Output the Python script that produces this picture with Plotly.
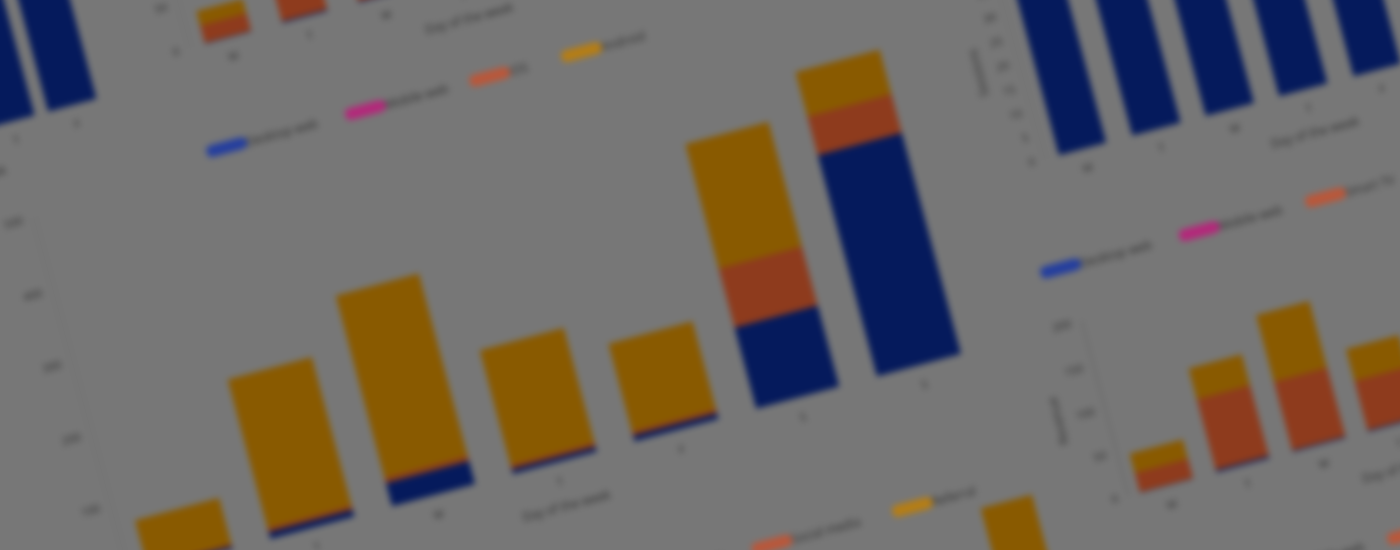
import plotly.graph_objects as go

# ---------------- data ----------------
DAYS = ["M", "T", "W", "T", "F", "S", "S"]

TOP_SERIES = ["Desktop web", "Mobile web", "iOS", "Android"]
RIGHT_SERIES = ["Desktop web", "Mobile web", "Smart TV", "Console"]
MAIN_SERIES = ["Organic search", "Paid search", "Social media", "Referral"]
X_TITLE = "Day of the week"

# centre (main) chart, stacked blue / pink / red / amber
main_blue = [5, 10, 33, 8, 9, 113, 309]
main_pink = [0, 0, 0, 0, 0, 0, 0]
main_red = [3, 5, 7, 5, 5, 83, 53]
main_amber = [64, 208, 254, 159, 122, 173, 62]

# top-left partial chart (blue)
p1_blue = [80, 86, 90, 94, 88]

# top chart (red / amber)
p2_blue = [1, 2, 2, 1, 2, 2, 1]
p2_red = [20, 78, 62, 40, 55, 70, 35]
p2_amber = [16, 44, 38, 30, 42, 50, 28]

# top-right chart (blue)
p4_blue = [37, 35, 34, 36, 33, 31, 34]

# right chart (red / amber)
p5_blue = [1, 3, 2, 2, 2, 3, 2]
p5_red = [22, 80, 78, 56, 64, 48, 70]
p5_amber = [22, 36, 76, 36, 42, 30, 45]

# bottom chart (red / amber)
p6_red = [20, 25, 15, 30, 22, 28, 30]
p6_amber = [30, 35, 25, 40, 33, 40, 70]

# ---------------- style ----------------
BG = "#777777"
BAR = {"blue": "#051a5c", "pink": "#8a1f55", "red": "#8e3b1d", "amber": "#895a00"}
PILL = ["#243e9e", "#b3287a", "#b9573a", "#b57d14"]
TICK_C = "#2c2c2c"
TEXT_C = "#2e2e2e"

# unrotated canvas geometry (pixels)
U0, V0, W, H = -250, -350, 1800, 1350


def xd(u):
    return (u - U0) / W


def yd(v):
    return 1 - (v - V0) / H


panels = [
    dict(n=1, u=(-250, 69), v=(-230, 120), ymax=100, dtick=20, bw=0.78,
         series=[("blue", p1_blue)], ytitle=None),
    dict(n=2, u=(167, 727), v=(-85, 95), ymax=200, dtick=50, bw=0.6,
         series=[("blue", p2_blue), ("red", p2_red), ("amber", p2_amber)], ytitle=None),
    dict(n=3, u=(-30, 859), v=(218, 588), ymax=500, dtick=100, bw=0.69,
         series=[("blue", main_blue), ("pink", main_pink), ("red", main_red), ("amber", main_amber)],
         ytitle=None),
    dict(n=4, u=(973, 1512), v=(222, 422), ymax=40, dtick=5, bw=0.65,
         series=[("blue", p4_blue)], ytitle="Sessions"),
    dict(n=5, u=(966, 1522), v=(587, 767), ymax=200, dtick=50, bw=0.7,
         series=[("blue", p5_blue), ("red", p5_red), ("amber", p5_amber)], ytitle="Revenue"),
    dict(n=6, u=(308, 886), v=(741, 941), ymax=100, dtick=20, bw=0.65,
         series=[("red", p6_red), ("amber", p6_amber)], ytitle=None),
]

fig = go.Figure()
layout = {}

for p in panels:
    n = p["n"]
    ncat = len(p["series"][0][1])
    xs = list(range(ncat))
    xa = "x" if n == 1 else f"x{n}"
    ya = "y" if n == 1 else f"y{n}"
    for key, vals in p["series"]:
        fig.add_trace(go.Bar(
            x=xs, y=vals, width=p["bw"], marker=dict(color=BAR[key], line=dict(width=0)),
            xaxis=xa, yaxis=ya, showlegend=False, hoverinfo="skip"))
    xkey = "xaxis" if n == 1 else f"xaxis{n}"
    ykey = "yaxis" if n == 1 else f"yaxis{n}"
    layout[xkey] = dict(
        domain=[max(0, xd(p["u"][0])), min(1, xd(p["u"][1]))], anchor=ya,
        range=[-0.5, ncat - 0.5], tickvals=xs, ticktext=DAYS[:ncat],
        showgrid=False, zeroline=False, showline=False, ticks="",
        tickfont=dict(size=11, color=TICK_C), ticklabelstandoff=11,
        title=dict(text=X_TITLE, font=dict(size=12, color=TEXT_C), standoff=14))
    layout[ykey] = dict(
        domain=[max(0, yd(p["v"][1])), min(1, yd(p["v"][0]))], anchor=xa,
        range=[0, p["ymax"]], dtick=p["dtick"], showgrid=False, zeroline=False,
        showline=True, linecolor="#6a6a6a", linewidth=1, ticks="",
        tickfont=dict(size=11, color=TICK_C), ticklabelstandoff=8,
        title=dict(text=p["ytitle"] or "", font=dict(size=12, color=TEXT_C), standoff=10))

# legends: one legend box per entry so each pill sits where the reference has it
TOP_OFFSETS = [0, 145, 275, 371]
RIGHT_OFFSETS = [0, 145, 277, 410]
MAIN_OFFSETS = [0, 140, 275, 422]
legend_specs = [
    (2, TOP_SERIES, TOP_OFFSETS, 176, 200),
    (4, RIGHT_SERIES, RIGHT_OFFSETS, 958, 531),
    (3, MAIN_SERIES, MAIN_OFFSETS, 329, 722),
    (5, RIGHT_SERIES, RIGHT_OFFSETS, 950, 876),
]
lg = 0
for pn, labels, offs, u0, v in legend_specs:
    xa = "x" if pn == 1 else f"x{pn}"
    ya = "y" if pn == 1 else f"y{pn}"
    for lab, col, off in zip(labels, PILL, offs):
        lg += 1
        lname = "legend" if lg == 1 else f"legend{lg}"
        fig.add_trace(go.Scatter(
            x=[None], y=[None], mode="lines", name=lab,
            line=dict(color=col, width=10), legend=lname,
            xaxis=xa, yaxis=ya, showlegend=True, hoverinfo="skip"))
        layout[lname] = dict(
            orientation="h", x=xd(u0 + off - 20), y=yd(v), xanchor="left", yanchor="middle",
            bgcolor="rgba(0,0,0,0)", font=dict(size=12, color=TEXT_C),
            itemclick=False, itemdoubleclick=False)

fig.update_layout(
    width=W, height=H, margin=dict(l=0, r=0, t=0, b=0),
    paper_bgcolor=BG, plot_bgcolor=BG, barmode="stack",
    font=dict(family="Open Sans, Roboto, sans-serif", color=TEXT_C),
    **layout)

POST = """
var gd = document.getElementById('{plot_id}');
document.documentElement.style.background = '#777777';
document.body.style.margin = '0';
document.body.style.overflow = 'hidden';
document.body.style.background = '#777777';
gd.style.position = 'absolute';
gd.style.left = '0px';
gd.style.top = '0px';
gd.style.transformOrigin = '0 0';
gd.style.transform = 'translate(-36px, 5px) scale(1.017) rotate(-15deg) translate(-250px, -350px)';
gd.style.filter = 'blur(3.3px)';
gd.querySelectorAll('.legendlines path').forEach(function(p){
    p.style.strokeLinecap = 'round';
    p.style.strokeWidth = '12px';
});
"""

fig.write_html("out.html", config={"displayModeBar": False, "staticPlot": True}, post_script=POST)
